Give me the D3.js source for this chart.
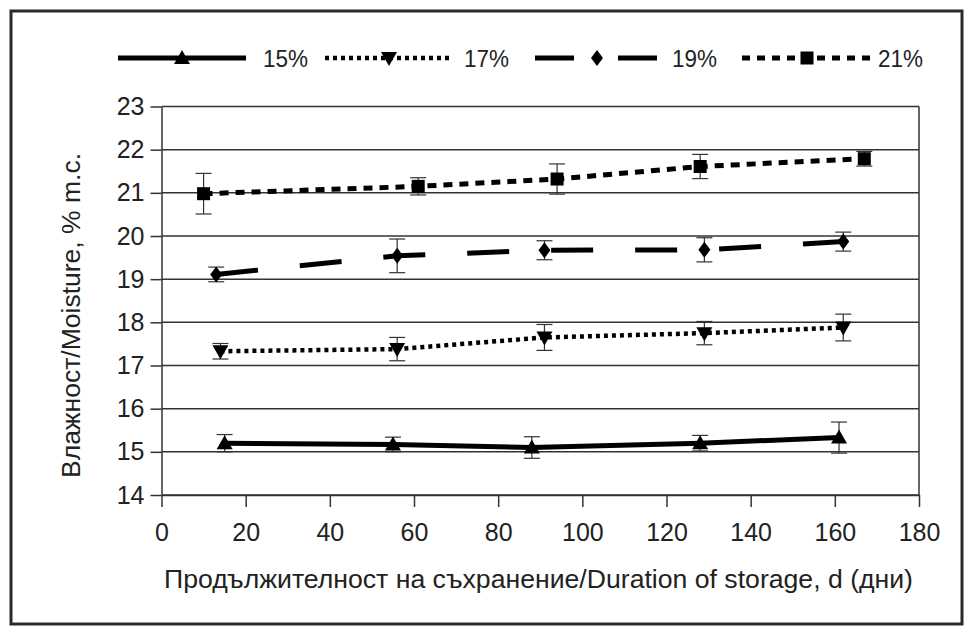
<!DOCTYPE html>
<html>
<head>
<meta charset="UTF-8">
<script src="https://d3js.org/d3.v7.min.js"></script>
<style>
  body { margin: 0; background: #fff; }
  text { font-family: "Liberation Sans", Arial, sans-serif; fill: #222; }
</style>
</head>
<body>
<div id="chart"></div>
<script>
// storage days and moisture (% m.c.)
const days15 = [15, 55, 88, 128, 161];
const moist15 = [15.2, 15.17, 15.1, 15.2, 15.33];
const err15 = [0.2, 0.17, 0.25, 0.18, 0.36];

const days17 = [14, 56, 91, 129, 162];
const moist17 = [17.33, 17.38, 17.65, 17.75, 17.88];
const err17 = [0.18, 0.27, 0.3, 0.27, 0.31];

const days19 = [13, 56, 91, 129, 162];
const moist19 = [19.11, 19.54, 19.67, 19.68, 19.87];
const err19 = [0.17, 0.39, 0.22, 0.28, 0.22];

const days21 = [10, 61, 94, 128, 167];
const moist21 = [20.98, 21.15, 21.32, 21.61, 21.79];
const err21 = [0.47, 0.2, 0.35, 0.28, 0.17];

const seriesNames = ["15%", "17%", "19%", "21%"];
const xTicks = [0, 20, 40, 60, 80, 100, 120, 140, 160, 180];
const yTicks = [14, 15, 16, 17, 18, 19, 20, 21, 22, 23];

const series = [
  { name: seriesNames[0], days: days15, vals: moist15, err: err15, sym: "up", dash: null, legDash: null, w: 5 },
  { name: seriesNames[1], days: days17, vals: moist17, err: err17, sym: "down", dash: "4,4", legDash: "4,4", w: 4.5 },
  { name: seriesNames[2], days: days19, vals: moist19, err: err19, sym: "diamond", dash: "42,42", legDash: "39,44", w: 5 },
  { name: seriesNames[3], days: days21, vals: moist21, err: err21, sym: "square", dash: "9,7", legDash: "8,7", w: 5 }
];

const W = 971, H = 632;
const svg = d3.select("#chart").append("svg").attr("width", W).attr("height", H);

// outer frame
svg.append("rect").attr("x", 11).attr("y", 11).attr("width", 951).attr("height", 613)
  .attr("fill", "none").attr("stroke", "#2a2a2a").attr("stroke-width", 3);

const x = d3.scaleLinear().domain([0, 180]).range([161.5, 919]);
const y = d3.scaleLinear().domain([14, 23]).range([495, 106.5]);

// horizontal grid
svg.append("g").selectAll("line").data(yTicks).enter().append("line")
  .attr("x1", x(0)).attr("x2", x(180))
  .attr("y1", d => y(d)).attr("y2", d => y(d))
  .attr("stroke", "#333").attr("stroke-width", 1.5);

// right border of plot
svg.append("line").attr("x1", x(180)).attr("x2", x(180)).attr("y1", y(23)).attr("y2", y(14))
  .attr("stroke", "#333").attr("stroke-width", 1.5);

const yAxis = svg.append("g").attr("transform", `translate(${x(0)},0)`)
  .call(d3.axisLeft(y).tickValues(yTicks).tickSize(11).tickSizeOuter(0).tickPadding(6));
const xAxis = svg.append("g").attr("transform", `translate(0,${y(14)})`)
  .call(d3.axisBottom(x).tickValues(xTicks).tickSize(12).tickSizeOuter(0).tickPadding(16));

[yAxis, xAxis].forEach(a => {
  a.selectAll("path.domain").attr("stroke", "#333").attr("stroke-width", 1.5);
  a.selectAll(".tick line").attr("stroke", "#333").attr("stroke-width", 1.5);
  a.selectAll(".tick text").attr("font-size", 25).attr("fill", "#222")
    .attr("font-family", "'Liberation Sans', Arial, sans-serif");
});

// axis titles
svg.append("text").attr("x", 164).attr("y", 588)
  .attr("font-size", 25).attr("textLength", 749).attr("lengthAdjust", "spacingAndGlyphs")
  .text("Продължителност на съхранение/Duration of storage, d (дни)");
svg.append("text").attr("transform", "translate(80,478) rotate(-90)")
  .attr("font-size", 25).attr("textLength", 325).attr("lengthAdjust", "spacingAndGlyphs")
  .text("Влажност/Moisture, % m.c.");

function marker(sel, sym) {
  let m;
  if (sym === "up") m = sel.append("path").attr("d", "M0,-8L8,6L-8,6Z");
  else if (sym === "down") m = sel.append("path").attr("d", "M0,8L8,-6L-8,-6Z");
  else if (sym === "diamond") m = sel.append("path").attr("d", "M0,-8L6,0L0,8L-6,0Z");
  else m = sel.append("rect").attr("x", -6.5).attr("y", -6.5).attr("width", 13).attr("height", 13);
  m.attr("fill", "#000");
}

const line = d3.line().x(d => x(d[0])).y(d => y(d[1]));

series.forEach(s => {
  const pts = s.days.map((d, i) => [d, s.vals[i], s.err[i]]);
  const g = svg.append("g");
  // error bars
  const eb = g.selectAll(".eb").data(pts).enter().append("g").attr("stroke", "#333").attr("stroke-width", 1.2);
  eb.append("line").attr("x1", d => x(d[0])).attr("x2", d => x(d[0]))
    .attr("y1", d => y(d[1] + d[2])).attr("y2", d => y(d[1] - d[2]));
  eb.append("line").attr("x1", d => x(d[0]) - 8).attr("x2", d => x(d[0]) + 8)
    .attr("y1", d => y(d[1] + d[2])).attr("y2", d => y(d[1] + d[2]));
  eb.append("line").attr("x1", d => x(d[0]) - 8).attr("x2", d => x(d[0]) + 8)
    .attr("y1", d => y(d[1] - d[2])).attr("y2", d => y(d[1] - d[2]));
  g.append("path").datum(pts).attr("d", line).attr("fill", "none")
    .attr("stroke", "#000").attr("stroke-width", s.w)
    .attr("stroke-dasharray", s.dash);
  g.selectAll(".m").data(pts).enter().append("g")
    .attr("transform", d => `translate(${x(d[0])},${y(d[1])})`)
    .each(function () { marker(d3.select(this), s.sym); });
});

// legend
const legX = [118, 325, 535, 742];
const legLen = [128, 128, 122, 130];
const legTextX = [263, 464, 672, 878];
const legY = 58;
series.forEach((s, i) => {
  const g = svg.append("g").attr("transform", `translate(${legX[i]},${legY})`);
  g.append("line").attr("x1", 0).attr("x2", legLen[i]).attr("y1", 0).attr("y2", 0)
    .attr("stroke", "#000").attr("stroke-width", s.w)
    .attr("stroke-dasharray", s.legDash);
  const m = g.append("g").attr("transform", `translate(${i === 2 ? 62 : legLen[i] / 2},0)`);
  marker(m, s.sym);
  svg.append("text").attr("x", legTextX[i]).attr("y", legY + 8.5)
    .attr("font-size", 24).attr("textLength", 45).attr("lengthAdjust", "spacingAndGlyphs")
    .text(s.name);
});
</script>
</body>
</html>
